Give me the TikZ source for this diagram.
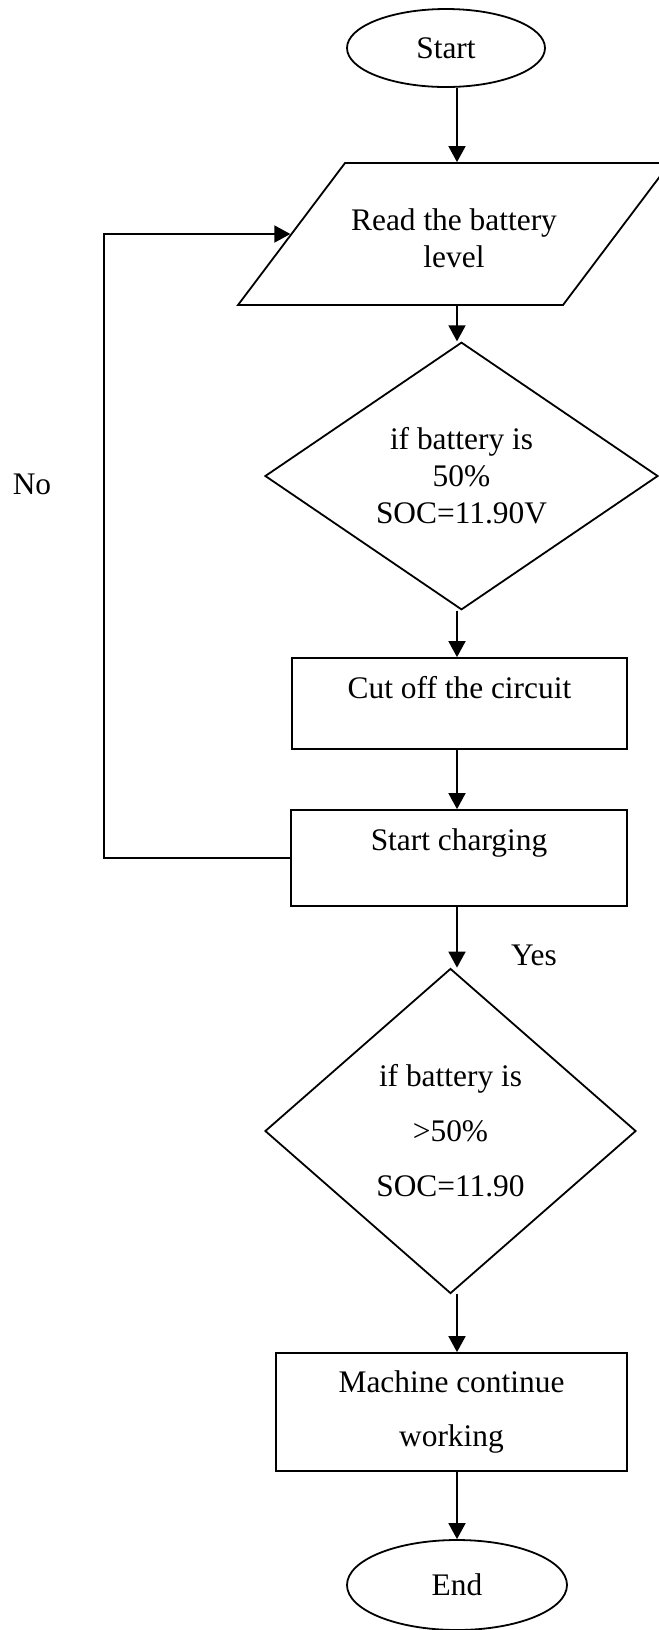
\documentclass[tikz,border=0pt]{standalone}
\usepackage{fontspec}
\setmainfont{Liberation Serif}
\usepackage{tikz}
\usetikzlibrary{shapes.geometric,arrows.meta}

\begin{document}
\begin{tikzpicture}[x=0.5pt,y=-0.5pt,
    every node/.style={font=\fontsize{15.7}{18.5}\selectfont},
    term/.style={draw, line width=0.9pt, ellipse, inner sep=0pt},
    io/.style={draw, line width=0.9pt, trapezium, trapezium left angle=53, trapezium right angle=127,
        trapezium stretches body, inner sep=0pt, align=center},
    decision/.style={draw, line width=0.9pt, diamond, inner sep=0pt, align=center},
    proc/.style={draw, line width=0.9pt, rectangle, inner sep=0pt, align=center},
    flow/.style={line width=0.9pt, -{Triangle[length=8pt,width=8.5pt]}}]
    \useasboundingbox (0,0) rectangle (659,1630);
    \coordinate (col) at (457,0);
    \coordinate (back) at (104,540);

    \node[term, minimum width=99pt, minimum height=39pt] (start) at (446,48) {Start};
    \node[io, minimum width=216pt, text height=52pt, text depth=19pt] (read) at (454,234)
        {Read the battery\\level};
    \node[decision, minimum width=196.5pt, minimum height=117pt] (cond1) at (461.5,476)
        {if battery is\\50\%\\SOC=11.90V};
    \node[proc, minimum width=167.5pt, minimum height=45.5pt, text height=9.5pt, text depth=15pt]
        (cut) at (459.5,703.5) {Cut off the circuit};
    \node[proc, minimum width=168pt, minimum height=48pt, text height=9.5pt, text depth=17.5pt]
        (charge) at (459,858) {Start charging};
    \node[decision, minimum width=185.5pt, minimum height=162.5pt,
        font=\fontsize{15.7}{27.5}\selectfont] (cond2) at (450.5,1131)
        {if battery is\\>50\%\\SOC=11.90};
    \node[proc, minimum width=175.5pt, minimum height=59pt,
        font=\fontsize{15.7}{27}\selectfont] (machine) at (451.5,1412) {Machine continue\\working};
    \node[term, minimum width=110pt, minimum height=45pt] (stop) at (457,1585) {End};

    \node (no) at (32,484) {No};
    \node (yes) at (534,955) {Yes};

    \draw[flow] (start.south -| col) -- (read.north -| col);
    \draw[flow] (read.south -| col) -- (cond1.north -| col);
    \draw[flow] (cond1.south -| col) -- (cut.north -| col);
    \draw[flow] (cut.south -| col) -- (charge.north -| col);
    \draw[flow] (charge.south -| col) -- (cond2.north -| col);
    \draw[flow] (cond2.south -| col) -- (machine.north -| col);
    \draw[flow] (machine.south -| col) -- (stop.north -| col);
    \draw[flow] (charge.west) -| (back) |- (read.west);
\end{tikzpicture}
\end{document}
